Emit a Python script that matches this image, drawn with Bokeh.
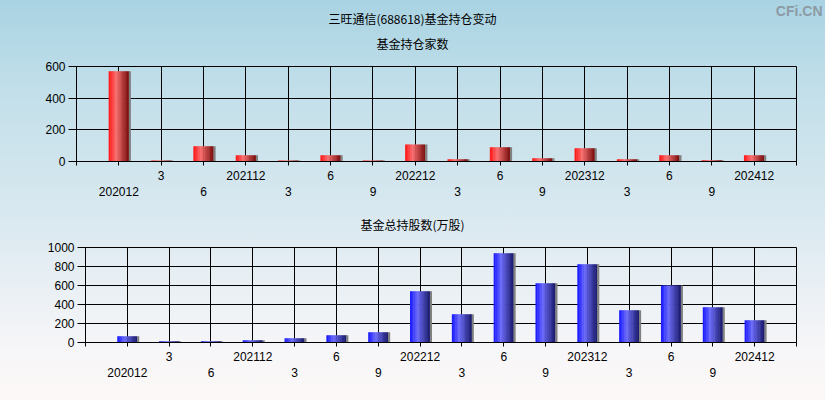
from bokeh.plotting import figure
from bokeh.models import Range1d, FixedTicker, LinearAxis
from bokeh.core.properties import value
from bokeh.layouts import column, row
from bokeh.embed import file_html
from bokeh.resources import INLINE

# ---- data ----
categories = ["202012", "202103", "202106", "202112", "202203", "202206", "202209", "202212",
              "202303", "202306", "202309", "202312", "202403", "202406", "202409", "202412"]
tick_labels = ["202012", "3", "6", "202112", "3", "6", "9", "202212",
               "3", "6", "9", "202312", "3", "6", "9", "202412"]
fund_count = [570, 6, 97, 40, 6, 40, 6, 107, 15, 90, 21, 84, 15, 40, 8, 40]
fund_shares = [67, 14, 12, 25, 46, 77, 109, 540, 298, 940, 625, 825, 340, 600, 372, 235]
count_ticks = [0, 200, 400, 600]
shares_ticks = [0, 200, 400, 600, 800, 1000]

main_title = "三旺通信(688618)基金持仓变动"
sub_title_1 = "基金持仓家数"
sub_title_2 = "基金总持股数(万股)"
watermark = "CFi.CN"

RED_STOPS = [(0.0, (255, 18, 18)), (0.38, (248, 112, 112)), (1.0, (120, 12, 12))]
BLUE_STOPS = [(0.0, (22, 22, 255)), (0.38, (108, 108, 248)), (1.0, (24, 24, 105))]

NUM = "Liberation Sans"
CJK = "Noto Sans CJK SC"
W = 825


def grad(stops, t):
    for (t0, c0), (t1, c1) in zip(stops[:-1], stops[1:]):
        if t <= t1:
            f = (t - t0) / (t1 - t0)
            return "#%02x%02x%02x" % tuple(int(round(a + (b - a) * f)) for a, b in zip(c0, c1))
    return "#%02x%02x%02x" % stops[-1][1]


def header(height):
    h = figure(width=W, height=height, output_backend="svg", toolbar_location=None,
               x_range=Range1d(0, W), y_range=Range1d(height, 0),
               x_axis_location=None, y_axis_location=None,
               min_border=0, min_border_left=0, min_border_right=0,
               min_border_top=0, min_border_bottom=0)
    h.grid.visible = False
    h.outline_line_color = None
    h.background_fill_alpha = 0
    h.border_fill_alpha = 0
    return h


def make_chart(values, ymax, yticks, height, left, right, top, bottom, stops):
    p = figure(width=W, height=height, output_backend="svg", toolbar_location=None,
               x_range=Range1d(-1, 16), y_range=Range1d(0, ymax),
               x_axis_location=None, min_border_left=left, min_border_right=right,
               min_border_top=top, min_border_bottom=bottom)
    p.background_fill_alpha = 0
    p.border_fill_alpha = 0
    p.outline_line_color = "black"
    p.outline_line_width = 1
    p.xgrid.ticker = FixedTicker(ticks=list(range(-1, 17)))
    p.ygrid.ticker = FixedTicker(ticks=yticks)
    for g in (p.xgrid, p.ygrid):
        g.grid_line_color = "black"
        g.grid_line_alpha = 1
        g.grid_line_width = 1

    idx = list(range(len(values)))
    w = 0.47
    n = 12
    for i in range(n):
        off = -w / 2 + (i + 0.5) * w / n
        p.vbar(x=[k + off for k in idx], top=values, width=w / n + 0.012,
               color=grad(stops, (i + 0.5) / n), line_color=None)
    sw = 0.05
    p.vbar(x=[k + w / 2 + sw / 2 for k in idx], top=values, width=sw,
           color="#808080", line_color=None)

    ya = p.yaxis[0]
    ya.ticker = FixedTicker(ticks=yticks)
    ya.major_tick_out = 8
    ya.major_tick_in = 0
    ya.minor_tick_out = 0
    ya.minor_tick_in = 0
    ya.axis_line_color = "black"
    ya.major_tick_line_color = "black"
    ya.major_label_standoff = 3
    ya.major_label_text_font = NUM
    ya.major_label_text_font_size = "12px"
    ya.major_label_text_color = "black"

    ax1 = LinearAxis(ticker=FixedTicker(ticks=list(range(-1, 17))),
                     major_label_overrides={i: (tick_labels[i] if (0 <= i < 16 and i % 2 == 1) else "")
                                            for i in range(-1, 17)})
    ax1.major_tick_out = 4
    ax1.major_tick_in = 0
    ax1.minor_tick_out = 0
    ax1.minor_tick_in = 0
    ax1.axis_line_color = "black"
    ax1.major_tick_line_color = "black"
    ax1.major_label_standoff = 5
    ax1.major_label_text_font = NUM
    ax1.major_label_text_font_size = "12px"
    ax1.major_label_text_color = "black"

    ax2 = LinearAxis(ticker=FixedTicker(ticks=list(range(0, 16))),
                     major_label_overrides={i: (tick_labels[i] if i % 2 == 0 else "")
                                            for i in range(0, 16)})
    ax2.axis_line_color = None
    ax2.major_tick_line_color = None
    ax2.minor_tick_line_color = None
    ax2.major_tick_out = 0
    ax2.major_tick_in = 0
    ax2.minor_tick_out = 0
    ax2.minor_tick_in = 0
    ax2.major_label_standoff = 4
    ax2.major_label_text_font = NUM
    ax2.major_label_text_font_size = "12px"
    ax2.major_label_text_color = "black"
    p.add_layout(ax1, "below")
    p.add_layout(ax2, "below")
    return p


h1 = header(56)
h1.text(x=[412], y=[18], text=[main_title], text_align="center", text_baseline="middle",
        text_font=value(CJK), text_font_size="12px", text_color="black")
h1.text(x=[412], y=[43], text=[sub_title_1], text_align="center", text_baseline="middle",
        text_font=value(CJK), text_font_size="12px", text_color="black")
h1.text(x=[822], y=[10], text=[watermark], text_align="right", text_baseline="middle",
        text_font=value(NUM), text_font_size="14px", text_font_style="bold", text_color="#8c9ba3")

p1 = make_chart(fund_count, 600, count_ticks, 144, 76, 29, 10, 39, RED_STOPS)

h2 = header(40)
h2.text(x=[412], y=[24], text=[sub_title_2], text_align="center", text_baseline="middle",
        text_font=value(CJK), text_font_size="12px", text_color="black")

p2 = make_chart(fund_shares, 1000, shares_ticks, 160, 85, 29, 7, 58, BLUE_STOPS)

# wrap each plot in its own row so that the column does not align their frames
layout = column(row(h1), row(p1), row(h2), row(p2), width=W, height=400, spacing=0,
                styles={"background": "linear-gradient(to bottom, #a9d3e3 0%, #c4e0ea 25%, #d6e7ef 50%, "
                                       "#ecf1f5 75%, #f7f6f8 88%, #fcf8f7 100%)"})

open("out.html", "w").write(file_html(layout, INLINE))
